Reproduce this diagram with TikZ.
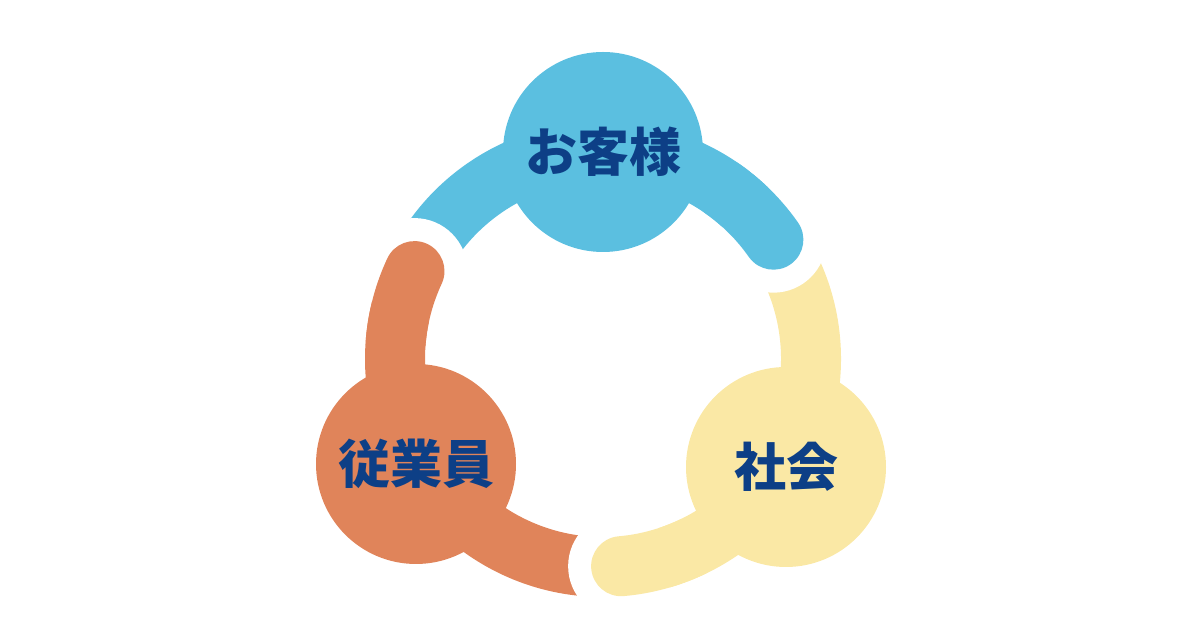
\documentclass[tikz,border=0pt]{standalone}
\usepackage{fontspec}
\setmainfont{Noto Sans CJK JP}
\usepackage{tikz}

\definecolor{skyblue}{HTML}{5BBFE0}
\definecolor{terracotta}{HTML}{E0845A}
\definecolor{cream}{HTML}{FAE8A5}
\definecolor{navy}{HTML}{0D3F86}

\begin{document}
\begin{tikzpicture}[
        x=1pt, y=1pt,
        hub/.style={circle, minimum size=200pt, inner sep=0pt, text=navy, font=\fontsize{52}{52}\selectfont\bfseries},
        band/.style={line width=60pt},
        halo/.style={fill=white}
    ]
        \useasboundingbox (0,0) rectangle (1200,628);
        \coordinate (ring) at (603,269);

        % Bands
        \draw[band, skyblue] (ring) ++(155:208) arc[start angle=155, end angle=35, radius=208];
        \draw[band, cream] (ring) ++(35:208) arc[start angle=35, end angle=-85, radius=208];
        \draw[band, terracotta] (ring) ++(-85:208) arc[start angle=-85, end angle=-205, radius=208];

        % Caps
        \fill[halo] (ring) ++(35:208) circle[radius=53];
        \draw[band, skyblue, line cap=round] (ring) ++(55:208) arc[start angle=55, end angle=35, radius=208];
        \fill[halo] (ring) ++(-85:208) circle[radius=53];
        \draw[band, cream, line cap=round] (ring) ++(-65:208) arc[start angle=-65, end angle=-85, radius=208];
        \fill[halo] (ring) ++(155:208) circle[radius=53];
        \draw[band, terracotta, line cap=round] (ring) ++(175:208) arc[start angle=175, end angle=155, radius=208];

        % Nodes
        \node[hub, fill=skyblue] (customer) at (603,476) {お客様};
        \node[hub, fill=terracotta] (employee) at (416,164) {従業員};
        \node[hub, fill=cream] (society) at (786,161) {社会};
    \end{tikzpicture}
\end{document}
